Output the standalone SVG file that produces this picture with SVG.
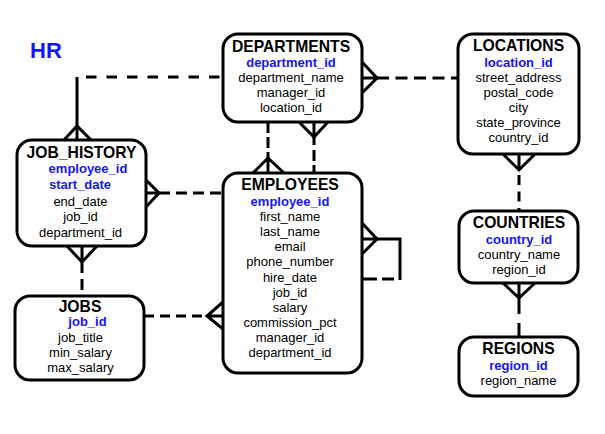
<svg xmlns="http://www.w3.org/2000/svg" width="605" height="434" viewBox="0 0 605 434">
<style>
  .box { fill: #ffffff; stroke: #000000; stroke-width: 3; }
  .t { font-family: "Liberation Sans", Arial, sans-serif; font-weight: bold; font-size: 15.7px; fill: #000000; text-anchor: middle; }
  .pk { font-family: "Liberation Sans", Arial, sans-serif; font-weight: bold; font-size: 13px; fill: #1414ff; text-anchor: middle; }
  .f { font-family: "Liberation Sans", Arial, sans-serif; font-size: 13px; fill: #000000; text-anchor: middle; }
  .s { fill: none; stroke: #000000; stroke-width: 3; }
  .d { fill: none; stroke: #000000; stroke-width: 3; stroke-dasharray: 11 6; }
</style>
<rect width="605" height="434" fill="#ffffff"/>
<text x="30" y="58" font-family="Liberation Sans, Arial, sans-serif" font-weight="bold" font-size="22" fill="#1414ff">HR</text>

<g id="connectors">
  <!-- DEPARTMENTS - JOB_HISTORY -->
  <path class="s" d="M77 77 V140"/>
  <path class="d" d="M86 77 H222" style="stroke-dasharray:10.5 10"/>
  <path class="s" d="M64 140 L77 126 L91 140"/>
  <!-- JOB_HISTORY - EMPLOYEES -->
  <path class="s" d="M146 180 L159 193 L146 207 M146 193 H159"/>
  <path class="d" d="M159 193 H222"/>
  <!-- JOB_HISTORY - JOBS -->
  <path class="s" d="M67 246 L82 262 L97 246 M82 246 V262"/>
  <path class="d" d="M82 262 V296"/>
  <!-- JOBS - EMPLOYEES -->
  <path class="s" d="M223 302 L207 316 L223 329 M207 316 H223"/>
  <path class="d" d="M144 316 H207" style="stroke-dasharray:10 6"/>
  <!-- DEPARTMENTS - EMPLOYEES (department_id) -->
  <path class="s" d="M253 173 L268 158 L284 173 M268 158 V173"/>
  <path class="d" d="M268 122 V158" style="stroke-dasharray:11 4"/>
  <!-- EMPLOYEES - DEPARTMENTS (manager_id) -->
  <path class="s" d="M299 122 L314 137 L328 122 M314 122 V137"/>
  <path class="d" d="M314 137 V173" style="stroke-dasharray:8 5 11 4"/>
  <!-- EMPLOYEES self (manager_id) -->
  <path class="s" d="M362 223 L377 239 L362 254 M362 239 H377"/>
  <path class="s" d="M377 239 H400 V280"/>
  <path class="d" d="M394 279 H362" style="stroke-dasharray:12 5 14 5"/>
  <!-- DEPARTMENTS - LOCATIONS -->
  <path class="s" d="M362 62 L377 78 L362 93 M362 78 H377"/>
  <path class="d" d="M377 78 H458" style="stroke-dasharray:12 6.5"/>
  <!-- LOCATIONS - COUNTRIES -->
  <path class="s" d="M503 154 L519 170 L535 154 M519 154 V170"/>
  <path class="d" d="M519 175 V211" style="stroke-dasharray:10 6.5"/>
  <!-- COUNTRIES - REGIONS -->
  <path class="s" d="M503 283 L519 298 L535 283 M519 283 V298"/>
  <path class="d" d="M519 298 V337" style="stroke-dasharray:16 9"/>
</g>

<g id="departments">
  <rect class="box" x="223" y="34" width="139" height="88" rx="15"/>
  <text class="t" x="291" y="52">DEPARTMENTS</text>
  <text class="pk" x="291" y="67">department_id</text>
  <text class="f" x="291" y="82">department_name</text>
  <text class="f" x="291" y="97">manager_id</text>
  <text class="f" x="291" y="112">location_id</text>
</g>

<g id="locations">
  <rect class="box" x="458" y="34" width="121" height="120" rx="15"/>
  <text class="t" x="518.5" y="51">LOCATIONS</text>
  <text class="pk" x="518.5" y="66.5">location_id</text>
  <text class="f" x="518.5" y="81.5">street_address</text>
  <text class="f" x="518.5" y="97">postal_code</text>
  <text class="f" x="518.5" y="112">city</text>
  <text class="f" x="518.5" y="127">state_province</text>
  <text class="f" x="518.5" y="142">country_id</text>
</g>

<g id="job_history">
  <rect class="box" x="17" y="140" width="129" height="106" rx="15"/>
  <text class="t" x="81.5" y="158">JOB_HISTORY</text>
  <text class="pk" x="88" y="173">employee_id</text>
  <text class="pk" x="80" y="189">start_date</text>
  <text class="f" x="80.5" y="205.5">end_date</text>
  <text class="f" x="80.5" y="221">job_id</text>
  <text class="f" x="80.5" y="237">department_id</text>
</g>

<g id="employees">
  <rect class="box" x="223" y="173" width="139" height="200" rx="15"/>
  <text class="t" x="290" y="190">EMPLOYEES</text>
  <text class="pk" x="290" y="206">employee_id</text>
  <text class="f" x="290" y="221">first_name</text>
  <text class="f" x="290" y="236">last_name</text>
  <text class="f" x="290" y="251">email</text>
  <text class="f" x="290" y="266">phone_number</text>
  <text class="f" x="290" y="281.5">hire_date</text>
  <text class="f" x="290" y="296.5">job_id</text>
  <text class="f" x="290" y="311.5">salary</text>
  <text class="f" x="290" y="326.8">commission_pct</text>
  <text class="f" x="290" y="342">manager_id</text>
  <text class="f" x="290" y="357">department_id</text>
</g>

<g id="jobs">
  <rect class="box" x="15" y="296" width="129" height="84" rx="15"/>
  <text class="t" x="80" y="311.5">JOBS</text>
  <text class="pk" x="87.5" y="326">job_id</text>
  <text class="f" x="80.5" y="341.5">job_title</text>
  <text class="f" x="80.5" y="356.5">min_salary</text>
  <text class="f" x="80.5" y="371.5">max_salary</text>
</g>

<g id="countries">
  <rect class="box" x="459" y="211" width="119" height="72" rx="15"/>
  <text class="t" x="519" y="228">COUNTRIES</text>
  <text class="pk" x="519" y="244">country_id</text>
  <text class="f" x="519" y="259">country_name</text>
  <text class="f" x="519" y="274">region_id</text>
</g>

<g id="regions">
  <rect class="box" x="459" y="337" width="119" height="59" rx="15"/>
  <text class="t" x="518.5" y="354">REGIONS</text>
  <text class="pk" x="518.5" y="369.5">region_id</text>
  <text class="f" x="518.5" y="385">region_name</text>
</g>
</svg>
